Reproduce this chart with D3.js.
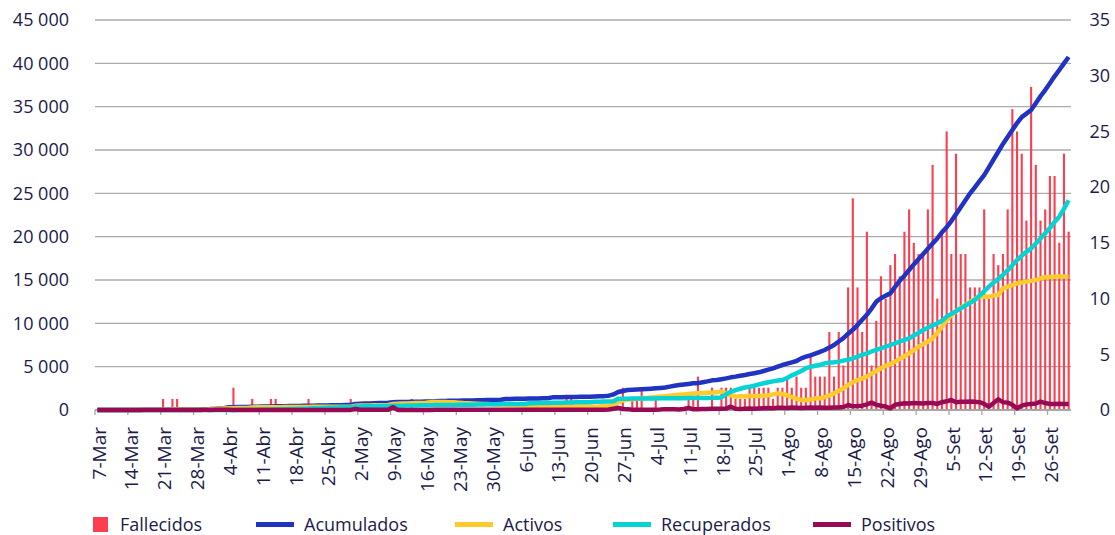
<!DOCTYPE html>
<html>
<head>
<meta charset="utf-8">
<script src="https://cdn.jsdelivr.net/npm/d3@7"></script>
<style>
  body { margin: 0; background: #fff; }
  svg { display: block; }
</style>
</head>
<body>
<div id="chart"></div>
<script>
// daily series, 7-Mar .. 30-Set (208 days)
const startDay = new Date(2020, 2, 7);
const days = d3.timeDay.range(startDay, new Date(2020, 9, 1));

const tickLabels = ["7-Mar","14-Mar","21-Mar","28-Mar","4-Abr","11-Abr","18-Abr","25-Abr",
  "2-May","9-May","16-May","23-May","30-May","6-Jun","13-Jun","20-Jun","27-Jun",
  "4-Jul","11-Jul","18-Jul","25-Jul","1-Ago","8-Ago","15-Ago","22-Ago","29-Ago",
  "5-Set","12-Set","19-Set","26-Set"];

const fallecidos = [
  0,0,0,0,0,0,0,0,0,0, 0,0,0,0,1,0,1,1,0,0, 0,0,0,0,0,0,0,0,0,2, 0,0,0,1,0,0,0,1,1,0,
  0,0,0,0,0,1,0,0,0,0, 0,0,0,0,1,0,0,0,0,0, 0,0,0,0,0,0,0,1,0,0, 0,0,0,0,0,0,0,0,0,0,
  0,0,0,0,0,0,0,0,0,0, 0,0,0,0,0,0,0,0,0,0, 1,1,0,0,0,0,0,0,0,0, 0,0,2,0,1,1,2,0,0,1,
  0,0,0,0,0,0,1,1,3,0, 0,2,0,2,2,2,1,1,1,2, 2,2,2,2,1,2,2,3,2,3, 2,2,5,3,3,3,7,3,7,4,
  11,19,11,7,16,4,8,12,10,13, 14,12,16,18,15,14,14,18,22,10, 16,25,14,23,14,14,11,11,11,18,
  10,14,13,14,18,27,25,23,17,29, 22,17,18,21,21,15,23,16
];

const acumulados = [
  1,1,2,5,6,8,9,11,11,13, 18,22,22,27,37,41,52,56,59,64, 65,69,77,92,104,130,160,200,
  320,330,340,350,360,370,380,390,400,410,420,430,
  440,450,460,470,480,490,500,510,520,530,540,550,560,570,580,
  700,720,740,760,780,800,820,840,
  900,910,920,930,940,950,960,970,980,1000,
  1040,1050,1060,1070,1080,1090,1100,1110,1120,1130,1140,1150,1160,1180,
  1270,1280,1290,1300,1310,1320,1330,1340,1350,1360,
  1460,1470,1480,1490,1500,1510,1520,1530,1540,1560,1580,1600,
  1650,1800,2080,2200,2300,2330,2360,2400,2430,2460,
  2500,2550,2600,2700,2800,2880,2950,3010,3080,
  3100,3200,3300,3420,3460,3550,3650,3770,
  3850,3950,4040,4150,4250,4350,4500,4650,4800,5000,
  5190,5350,5500,5650,5960,6150,6300,6500,6700,6920,
  7200,7500,7900,8300,8800,9250,9800,10400,11000,11700,
  12500,12900,13200,13460,14200,14900,15500,16150,16800,17400,
  18000,18600,19200,19800,20500,21100,21800,22600,23400,24200,
  25000,25700,26400,27100,28000,28900,29800,30700,31500,32300,
  33110,33800,34200,34610,35400,36200,36920,37700,38500,39230,40000,40730
];

const activos = [
  1,1,2,5,6,8,9,11,11,13, 18,21,21,26,35,38,48,52,55,59, 59,62,69,82,92,115,140,175,
  200,210,220,230,240,
  300,305,310,315,320,325,330,335,340,345,350,355,360,365,370,375,380,380,380,380,380,380,
  500,510,520,530,540,550,560,580,
  700,720,740,760,780,800,820,850,
  900,920,930,920,900,880,
  850,800,780,750,720,700,680,650,620,600,580,560,540,520,
  500,490,480,470,460,450,440,430,420,410,400,400,390,390,380,
  380,400,450,500,600,
  900,1100,1200,1250,1300,1350,1400,1450,
  1500,1550,1600,1650,1700,1750,1800,1850,1900,
  1920,1950,1980,2000,2050,2120,1900,1700,
  1540,1580,1600,1620,1615,1620,1650,1700,1800,1920,1850,1700,1500,1300,
  1150,1150,1200,1350,1350,1500,1700,1920,2200,
  2500,2900,3200,3460,3650,3850,4200,4500,4810,5100,
  5300,5580,5900,6200,6540,6900,7300,7600,7900,8270,
  8900,9610,10300,10960,11400,11800,12115,12500,12800,13070,
  13070,13070,13200,13270,14040,14200,14400,14620,14700,14810,
  14900,15000,15200,15310,15350,15380,15400,15400,15380
];

const recuperados = [
  0,0,0,0,0,0,0,0,0,0, 0,0,0,0,0,0,0,0,0,0, 0,0,0,0,0,
  2,3,5,8,10,15,20,25,30,40,50,60,70,80,90,100,110,120,130,150,170,190,210,230,250,270,290,310,330,350,
  400,410,420,430,440,450,460,470,480,490,500,510,520,530,540,550,560,570,575,580,585,590,595,600,
  610,620,630,640,650,660,670,680,690,690,690,700,700,
  780,790,800,810,820,830,840,850,860,870,880,880,885,890,
  950,960,970,980,1000,
  1300,1305,1310,1315,1320,1325,1330,1335,1340,1345,1350,1355,1360,1365,1370,1375,1380,1385,1390,1395,
  1400,1420,1450,1800,2100,
  2300,2450,2600,2690,2800,2950,
  3080,3200,3300,3400,3460,3700,4000,4230,4500,4800,
  5000,5100,5200,5380,5450,5500,5580,5700,5800,5960,
  6150,6350,6540,6750,6950,7120,7300,7500,7690,7900,
  8100,8270,8600,8900,9230,9500,9750,10000,10300,10770,
  11100,11400,11730,12050,12350,12690,13200,13700,14230,14700,
  15150,15580,16100,16700,17310,17800,18250,18650,19200,19800,
  20390,21000,21700,22310,23200,24200
];

const positivos = [
  1,0,1,3,1,2,1,2,0,2, 5,4,0,5,10,4,11,4,3,5, 1,4,8,15,12,26,30,40,
  20,10,12,8,10,9,11,10,8,12,10,9,10,11,10,8,12,10,10,9,11,10,10,12,9,10,10,
  120,20,20,20,20,20,20,20,
  320,10,12,10,14,10,12,10,10,15,
  20,15,18,20,22,15,20,18,25,20,22,18,20,24,22,20,25,18,20,22,25,20,18,22,24,20,25,22,20,25,28,20,30,25,22,30,
  50,150,250,120,100,30,30,40,30,30,
  40,50,100,100,80,70,120,250,80,
  100,120,110,130,150,140,160,380,150,120,140,160,150,170,
  200,220,210,250,260,240,280,250,230,260,280,250,300,270,260,290,300,
  350,580,420,450,500,650,850,600,500,400,
  190,
  600,700,770,750,800,780,760,800,820,700,900,1000,
  1150,
  900,950,960,980,940,900,700,
  380,800,1230,900,850,600,190,500,650,700,750,960,800,700,690,720,680,700
];

const seriesNames = ["Fallecidos", "Acumulados", "Activos", "Recuperados", "Positivos"];
const seriesColors = ["#fb3f50", "#2133c1", "#ffca2c", "#06d3d3", "#990a55"];

const width = 1115, height = 535;
const plotLeft = 95, plotRight = 1071, plotTop = 20, plotBottom = 410;
const textColor = "#1c1a4a";
const font = "'Open Sans', 'Noto Sans', sans-serif";

const svg = d3.select("#chart").append("svg")
  .attr("width", width)
  .attr("height", height)
  .style("font-family", font);

const idx = d3.range(days.length);
const x = d3.scaleBand().domain(idx).range([plotLeft, plotRight]).padding(0);
const bw = x.bandwidth();
const cx = i => x(i) + bw / 2;

const yL = d3.scaleLinear().domain([0, 45000]).range([plotBottom, plotTop]);
const yR = d3.scaleLinear().domain([0, 35]).range([plotBottom, plotTop]);

const fmt = d3.formatLocale({ decimal: ",", thousands: " ", grouping: [3], currency: ["", ""] }).format(",");

// gridlines
svg.append("g")
  .selectAll("line")
  .data(d3.range(5000, 45001, 5000))
  .enter()
  .append("line")
  .attr("x1", plotLeft)
  .attr("x2", plotRight)
  .attr("y1", d => yL(d))
  .attr("y2", d => yL(d))
  .attr("stroke", "#ababab")
  .attr("stroke-width", 1.3);

// left axis labels
const yAxisL = d3.axisLeft(yL).tickValues(d3.range(0, 45001, 5000)).tickFormat(fmt).tickSize(0).tickPadding(0);
const gL = svg.append("g").attr("transform", `translate(69,0)`).call(yAxisL);
gL.select(".domain").remove();
gL.selectAll("text").attr("font-size", "18px").attr("fill", textColor).attr("font-family", font);

// right axis labels
const yAxisR = d3.axisRight(yR).tickValues(d3.range(0, 36, 5)).tickSize(0).tickPadding(0);
const gR = svg.append("g").attr("transform", `translate(1110,0)`).call(yAxisR);
gR.select(".domain").remove();
gR.selectAll("text").attr("font-size", "18px").attr("fill", textColor)
  .attr("text-anchor", "end").attr("font-family", font);

// bars (right axis)
svg.append("g")
  .selectAll("rect")
  .data(fallecidos)
  .enter()
  .append("rect")
  .attr("x", (d, i) => cx(i) - 1.05)
  .attr("width", 2.1)
  .attr("y", d => yR(d))
  .attr("height", d => plotBottom - yR(d))
  .attr("fill", seriesColors[0]);

// x axis line + ticks
svg.append("line")
  .attr("x1", plotLeft).attr("x2", plotRight)
  .attr("y1", plotBottom).attr("y2", plotBottom)
  .attr("stroke", "#a6a6a6").attr("stroke-width", 2);

const tickIdx = tickLabels.map((d, k) => k * 7);
svg.append("g")
  .selectAll("line")
  .data(tickIdx)
  .enter()
  .append("line")
  .attr("x1", d => x(d)).attr("x2", d => x(d))
  .attr("y1", plotBottom).attr("y2", plotBottom + 5)
  .attr("stroke", "#a6a6a6").attr("stroke-width", 1.3);

svg.append("g")
  .selectAll("text")
  .data(tickIdx)
  .enter()
  .append("text")
  .attr("transform", d => `translate(${cx(d) + 1.5},${plotBottom + 17}) rotate(-90)`)
  .attr("text-anchor", "end")
  .attr("dy", "0.35em")
  .attr("font-size", "19px")
  .attr("fill", textColor)
  .text((d, k) => tickLabels[k]);

// lines (left axis)
const lineGen = d3.line().x((d, i) => cx(i)).y(d => yL(d));
[acumulados, activos, recuperados, positivos].forEach((s, k) => {
  svg.append("path")
    .datum(s)
    .attr("d", lineGen)
    .attr("fill", "none")
    .attr("stroke", seriesColors[k + 1])
    .attr("stroke-width", 4.5)
    .attr("stroke-linejoin", "round");
});

// legend
const legendX = [93, 256, 455, 613, 813];
const lg = svg.append("g");
seriesNames.forEach((name, k) => {
  if (k === 0) {
    lg.append("rect").attr("x", legendX[k]).attr("y", 517).attr("width", 15).attr("height", 15)
      .attr("fill", seriesColors[k]);
  } else {
    lg.append("line").attr("x1", legendX[k]).attr("x2", legendX[k] + 38)
      .attr("y1", 524.5).attr("y2", 524.5)
      .attr("stroke", seriesColors[k]).attr("stroke-width", 5);
  }
  lg.append("text")
    .attr("x", legendX[k] + (k === 0 ? 27 : 48))
    .attr("y", 524.5)
    .attr("dy", "0.35em")
    .attr("font-size", "18px")
    .attr("fill", textColor)
    .text(name);
});
</script>
</body>
</html>
